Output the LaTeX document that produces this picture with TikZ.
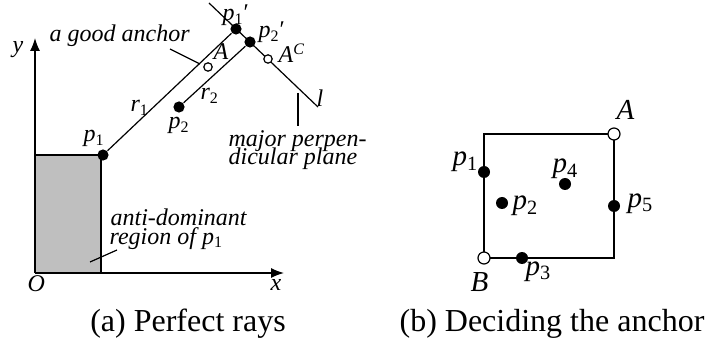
\documentclass[tikz,border=0pt]{standalone}
\usepackage{fontspec}
\setmainfont{Liberation Serif}
\usetikzlibrary{arrows.meta}
\newcommand{\sub}[2]{\textit{#1}\textsubscript{\upshape #2}}
\newcommand{\prm}{{\upshape\char"2032}}
\begin{document}
\begin{tikzpicture}[x=0.5pt,y=-0.5pt,line width=0.6pt,
  dot/.style={circle,fill,inner sep=0pt,minimum size=5.6pt},
  bigdot/.style={circle,fill,inner sep=0pt,minimum size=6pt},
  hollow/.style={circle,draw,fill=white,inner sep=0pt,minimum size=4.2pt},
  bighollow/.style={circle,draw,fill=white,inner sep=0pt,minimum size=6pt},
  lab/.style={inner sep=0pt,anchor=base west,font=\fontsize{12}{14}\selectfont\itshape},
  blab/.style={inner sep=0pt,anchor=base west,font=\fontsize{14.5}{17}\selectfont\itshape},
  captext/.style={inner sep=0pt,anchor=base,font=\fontsize{16}{19}\selectfont},
  axis/.style={line width=0.7pt,-{Latex[length=6.5pt,width=5pt]}}]
\useasboundingbox (0,0) rectangle (706,347);
% (a) perfect rays
\fill[black!25] (35,155) rectangle (101,273);
\draw (35,155) -| (101,273);
\coordinate (O) at (35,273);
\coordinate (ytip) at (35,38);
\coordinate (xtip) at (284,273);
\draw[axis] (O) -- (ytip);
\draw[axis] (O) -- (xtip);
\node[lab] (Olab) at (27,291) {O};
\node[lab] (xlab) at (270,290) {x};
\node[lab] (ylab) at (12,53) {y};
% line l
\coordinate (l0) at (209,3);
\coordinate (l1) at (318,107);
\draw (l0) -- (l1);
\node[dot] (p1) at (103,155) {};
\node[dot] (p2) at (179,107) {};
\node[dot] (p1p) at (236,29) {};
\node[dot] (p2p) at (250,42) {};
\node[hollow] (A) at (208,67) {};
\node[hollow] (Ac) at (268,59) {};
\draw (p1) -- (p1p);
\draw (p2) -- (p2p);
\node[lab] (p1lab) at (83,142) {\sub{p}{1}};
\node[lab] (p2lab) at (168,129) {\sub{p}{2}};
\node[lab] (r1lab) at (130,112) {\sub{r}{1}};
\node[lab] (r2lab) at (200,100) {\sub{r}{2}};
\node[lab] (p1plab) at (222,21) {\sub{p}{1}\prm};
\node[lab] (p2plab) at (258,38) {\sub{p}{2}\prm};
\node[lab] (Alab) at (213,60) {A};
\node[lab] (Aclab) at (278,63) {A\textsuperscript{C}};
\node[lab] (llab) at (316,107) {l};
% pointers
\node[lab] (good) at (49,42) {a good anchor};
\coordinate (g0) at (170,49);
\coordinate (g1) at (200,64);
\draw (g0) -- (g1);
\node[lab] (major) at (228,147) {major perpen-};
\node[lab] (major2) at (228,165) {dicular plane};
\coordinate (m0) at (298,93);
\coordinate (m1) at (298,126);
\draw (m0) -- (m1);
\node[lab] (anti) at (110,226) {anti-dominant};
\node[lab] (anti2) at (109,244) {region of \sub{p}{1}};
\coordinate (a0) at (117,250);
\coordinate (a1) at (90,262);
\draw (a0) -- (a1);
\node[captext] (capa) at (188,331) {(a) Perfect rays};
% (b) deciding the anchor
\draw (484,134) rectangle (614,258);
\node[bighollow] (bA) at (614,134) {};
\node[bighollow] (bB) at (484,258) {};
\node[bigdot] (bp1) at (484,172) {};
\node[bigdot] (bp2) at (502,203) {};
\node[bigdot] (bp3) at (522,258) {};
\node[bigdot] (bp4) at (565,184) {};
\node[bigdot] (bp5) at (614,206) {};
\node[blab] (bAlab) at (616,120) {A};
\node[blab] (bBlab) at (470,292) {B};
\node[blab] (bp1lab) at (452,166) {\sub{p}{1}};
\node[blab] (bp2lab) at (512,210) {\sub{p}{2}};
\node[blab] (bp3lab) at (525,275) {\sub{p}{3}};
\node[blab] (bp4lab) at (552,173) {\sub{p}{4}};
\node[blab] (bp5lab) at (627,207) {\sub{p}{5}};
\node[captext] (capb) at (552,331) {(b) Deciding the anchor};
\end{tikzpicture}
\end{document}
